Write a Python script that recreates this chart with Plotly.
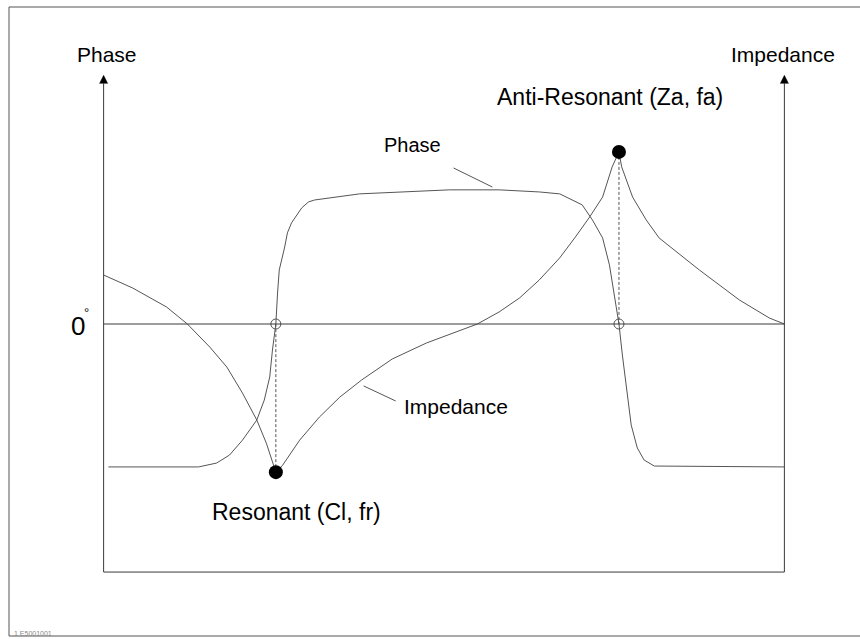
import plotly.graph_objects as go

# Normalised frequency axis: 0 at the left axis, 100 at the right axis
phase_freq = [0.7, 13.95, 16.6, 18.5, 20.4, 22.5, 23.6, 24.4, 24.8, 25.3, 25.55,
              25.8, 26.6, 27.0, 27.6, 29.1, 30.1, 31.0, 37.6, 43.5, 50.8, 58.1,
              64.0, 67.0, 68.7, 70.3, 71.8, 73.3, 74.3, 75.0, 75.7, 76.2, 76.8,
              77.5, 78.4, 79.4, 80.9, 100.0]
phase_deg = [-96.0, -96.0, -93.4, -88.0, -78.0, -64.5, -51.1, -35.6, -17.5, 0.0, 20.8,
             36.3, 51.7, 61.2, 67.9, 78.0, 82.0, 83.3, 87.4, 88.7, 90.1, 90.1,
             88.7, 87.4, 83.3, 80.0, 69.9, 57.8, 39.7, 19.5, 0.0, -20.8, -44.4,
             -67.9, -83.3, -91.4, -95.4, -96.0]

imp_freq = [0.0, 4.26, 9.25, 12.3, 15.6, 18.1, 20.4, 22.5, 23.9, 24.8, 25.3,
            26.3, 28.8, 31.7, 34.7, 37.9, 42.4, 47.4, 51.5, 54.9, 58.1, 61.1,
            64.0, 67.0, 69.2, 71.4, 73.3, 74.7, 75.7, 76.1, 77.7, 79.7, 81.6,
            87.5, 93.4, 97.8, 100.0]
imp_rel = [32.9, 24.2, 11.4, 0.0, -15.5, -28.9, -46.4, -64.5, -80.0, -93.4, -99.5,
           -94.8, -78.0, -62.5, -49.1, -37.6, -23.5, -12.8, -6.0, 0.0, 8.1, 17.5,
           29.6, 44.4, 57.8, 71.9, 85.3, 105.5, 115.6, 105.5, 85.3, 69.9, 57.8,
           36.3, 16.1, 4.0, 0.0]

# Resonant / anti-resonant frequencies and the impedance values there
fr, fa = 25.3, 75.7
z_min, z_max = -99.5, 115.6

AXIS_TOP, AXIS_BOTTOM = 167.0, -166.6
X_RANGE = [-2, 102]
Y_RANGE = [-180, 180]

W, H = 860, 639
M = dict(l=90, r=62, t=56, b=47)

CURVE = "#555555"
AXIS = "#3a3a3a"
FONT = "Liberation Sans, Arial, Helvetica, sans-serif"

PLOT_W = W - M["l"] - M["r"]
PLOT_H = H - M["t"] - M["b"]
X_PER_PX = (X_RANGE[1] - X_RANGE[0]) / PLOT_W
Y_PER_PX = (Y_RANGE[1] - Y_RANGE[0]) / PLOT_H


def px_to_paper(px, py):
    """Convert a page position to paper coordinates of the plot area."""
    return (px - M["l"]) / PLOT_W, (H - M["b"] - py) / PLOT_H


def data_to_paper(x, y):
    """Convert data coordinates to paper coordinates (for labels off the range)."""
    return ((x - X_RANGE[0]) / (X_RANGE[1] - X_RANGE[0]),
            (y - Y_RANGE[0]) / (Y_RANGE[1] - Y_RANGE[0]))


fig = go.Figure()

fig.add_trace(go.Scatter(x=phase_freq, y=phase_deg, mode="lines",
                         line=dict(color=CURVE, width=1), hoverinfo="skip"))
fig.add_trace(go.Scatter(x=imp_freq, y=imp_rel, mode="lines", yaxis="y2",
                         line=dict(color=CURVE, width=1), hoverinfo="skip"))

# Dotted drop lines from the impedance extremes to the zero line
fig.add_trace(go.Scatter(x=[fr, fr], y=[z_min, 0], mode="lines", yaxis="y2",
                         line=dict(color=CURVE, width=1, dash="3px,2px")))
fig.add_trace(go.Scatter(x=[fa, fa], y=[z_max, 0], mode="lines", yaxis="y2",
                         line=dict(color=CURVE, width=1, dash="3px,2px")))

# Phase zero crossings
fig.add_trace(go.Scatter(x=[fr, fa], y=[0, 0], mode="markers",
                         marker=dict(symbol="circle-open", size=10,
                                     color=CURVE, line=dict(width=1))))
# Impedance extremes
fig.add_trace(go.Scatter(x=[fr, fa], y=[z_min, z_max], mode="markers", yaxis="y2",
                         marker=dict(symbol="circle", size=14, color="black")))

HEAD_LEN = 8 * Y_PER_PX     # arrow head length (8 px)
HEAD_HALF = 4 * X_PER_PX    # arrow head half-width (4 px)

shapes = [
    # axes
    dict(type="line", xref="x", yref="y", x0=0, x1=0, y0=AXIS_BOTTOM,
         y1=AXIS_TOP - HEAD_LEN, line=dict(color=AXIS, width=1)),
    dict(type="line", xref="x", yref="y", x0=100, x1=100, y0=AXIS_BOTTOM,
         y1=AXIS_TOP - HEAD_LEN, line=dict(color=AXIS, width=1)),
    dict(type="line", xref="x", yref="y", x0=0, x1=100, y0=AXIS_BOTTOM, y1=AXIS_BOTTOM,
         line=dict(color=AXIS, width=1)),
    # zero line
    dict(type="line", xref="x", yref="y", x0=0, x1=100, y0=0, y1=0,
         line=dict(color=AXIS, width=1)),
    # label leader lines
    dict(type="line", xref="x", yref="y", x0=51.4, x1=57.1, y0=104.8, y1=92.0,
         line=dict(color=CURVE, width=1)),
    dict(type="line", xref="x", yref="y", x0=38.2, x1=42.9, y0=-41.6, y1=-51.7,
         line=dict(color=CURVE, width=1)),
]

# arrow heads on the vertical axes
for xa in (0, 100):
    base = AXIS_TOP - HEAD_LEN
    shapes.append(dict(
        type="path", xref="x", yref="y",
        path=f"M {xa - HEAD_HALF},{base} L {xa},{AXIS_TOP} L {xa + HEAD_HALF},{base} Z",
        fillcolor="black", line=dict(color="black", width=0.5)))

# frame around the figure
bx0, by0 = px_to_paper(9, 636)
bx1, by1 = px_to_paper(866, 7)
shapes.append(dict(type="rect", xref="paper", yref="paper", x0=bx0, x1=bx1,
                   y0=by0, y1=by1, line=dict(color="#555555", width=1)))

annotations = []


def add_text(text, px, py, size, xanchor="center", color="black"):
    annotations.append(dict(x=px, y=py, xref="paper", yref="paper", text=text,
                            showarrow=False, xanchor=xanchor, yanchor="middle",
                            font=dict(family=FONT, size=size, color=color)))


def label(text, x, y, size, xanchor="center"):
    px, py = data_to_paper(x, y)
    add_text(text, px, py, size, xanchor)


label("Phase", 0.5, 180.7, 21)
label("Impedance", 99.8, 181.3, 21)
label("Phase", 45.4, 120.2, 20)
label("Impedance", 43.9, -55.7, 21, xanchor="left")
label("Anti-Resonant (Za, fa)", 74.4, 152.5, 23)
label("Resonant (Cl, fr)", 28.3, -126.3, 23)

# zero-degree mark beside the left axis
label("0", -3.75, -1.5, 26)
label("°", -2.55, 7.5, 13)

# figure id at the bottom edge
ix, iy = px_to_paper(12, 639)
annotations.append(dict(x=ix, y=iy, xref="paper", yref="paper", text="1 E5001001",
                        showarrow=False, xanchor="left", yanchor="bottom",
                        font=dict(family=FONT, size=7, color="#888888")))

fig.update_layout(
    width=W, height=H, margin=M,
    paper_bgcolor="white", plot_bgcolor="white",
    showlegend=False,
    xaxis=dict(range=X_RANGE, visible=False, fixedrange=True),
    yaxis=dict(range=Y_RANGE, visible=False, fixedrange=True),
    yaxis2=dict(range=Y_RANGE, visible=False, overlaying="y", side="right",
                fixedrange=True),
    shapes=shapes,
    annotations=annotations,
)

fig.write_html("out.html", config={"displayModeBar": False})
